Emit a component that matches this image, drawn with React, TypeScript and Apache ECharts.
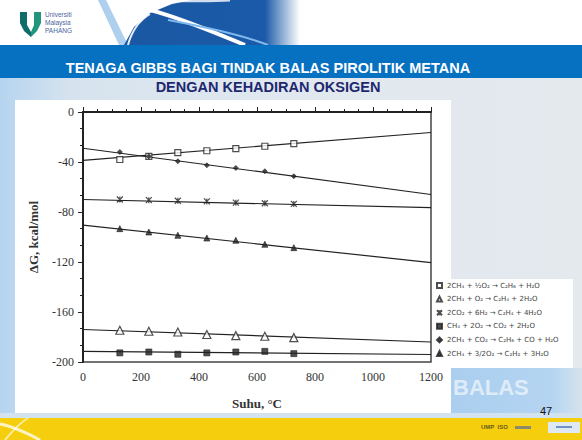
import React, { useEffect, useRef } from "react";
import * as echarts from "echarts";

// ---- data ----
const temps = [127, 227, 327, 427, 527, 627, 727];
const fitX = [0, 1200];
const reactionNames = [
  "2CH\u2084 + \u00BDO\u2082 \u2192 C\u2082H\u2086 + H\u2082O",
  "2CH\u2084 + O\u2082 \u2192 C\u2082H\u2084 + 2H\u2082O",
  "2CO\u2082 + 6H\u2082 \u2192 C\u2082H\u2084 + 4H\u2082O",
  "CH\u2084 + 2O\u2082 \u2192 CO\u2082 + 2H\u2082O",
  "2CH\u2084 + CO\u2082 \u2192 C\u2082H\u2086 + CO + H\u2082O",
  "2CH\u2084 + 3/2O\u2082 \u2192 C\u2082H\u2082 + 3H\u2082O",
];
const openSquare = [-38, -35.5, -32.5, -31, -29.3, -27.4, -25.3];
const openSquareFit = [-38.7, -16.4];
const openTriangle = [-174.6, -175.4, -176, -178, -178.9, -179.4, -180.5];
const openTriangleFit = [-174, -184];
const crossMark = [-70, -70.5, -71, -71.5, -72.5, -73, -73.5];
const crossMarkFit = [-70, -76.5];
const filledSquare = [-192.7, -192, -193.8, -192.7, -192, -191.5, -193.3];
const filledSquareFit = [-191.5, -194];
const smallDiamond = [-32, -35.5, -39.4, -42.6, -44.7, -47.4, -51.4];
const smallDiamondFit = [-29, -66];
const filledTriangle = [-93.3, -96, -98.6, -100.8, -102.6, -105.8, -108.5];
const filledTriangleFit = [-90.5, -120.5];

const xMin = 0, xMax = 1200, xStep = 200;
const yMin = -200, yMax = 0, yStep = 40;

const INK = "#222";
const serif = "Liberation Serif, DejaVu Serif, serif";

type Spec = {
  name: string;
  vals: number[];
  fit: number[];
  symbol: string;
  size: number;
  filled: boolean;
};

const specs: Spec[] = [
  { name: reactionNames[0], vals: openSquare, fit: openSquareFit, symbol: "rect", size: 6, filled: false },
  { name: reactionNames[1], vals: openTriangle, fit: openTriangleFit, symbol: "triangle", size: 8, filled: false },
  { name: reactionNames[2], vals: crossMark, fit: crossMarkFit, symbol: "path://M0,0L10,10M10,0L0,10M5,0L5,10", size: 6, filled: false },
  { name: reactionNames[3], vals: filledSquare, fit: filledSquareFit, symbol: "rect", size: 6, filled: true },
  { name: reactionNames[4], vals: smallDiamond, fit: smallDiamondFit, symbol: "diamond", size: 5, filled: true },
  { name: reactionNames[5], vals: filledTriangle, fit: filledTriangleFit, symbol: "triangle", size: 6, filled: true },
];

function buildOption() {
  const series: any[] = [];
  specs.forEach((s, i) => {
    series.push({
      type: "line",
      name: "fit" + i,
      data: fitX.map((x, k) => [x, s.fit[k]]),
      showSymbol: false,
      silent: true,
      lineStyle: { color: INK, width: 1.2 },
      z: 2,
    });
  });
  specs.forEach((s) => {
    series.push({
      type: "scatter",
      name: s.name,
      data: temps.map((t, k) => [t, s.vals[k]]),
      symbol: s.symbol,
      symbolSize: s.size,
      itemStyle: s.filled
        ? { color: INK, borderColor: INK, borderWidth: 0.8 }
        : { color: "#fff", borderColor: INK, borderWidth: 1.2 },
      z: 3,
    });
  });

  const bg = (el: any) => ({ z: -5, silent: true, ...el });

  const graphic: any[] = [
    // slide background
    bg({ type: "rect", shape: { x: 0, y: 0, width: 582, height: 440 },
      style: { fill: new echarts.graphic.LinearGradient(0, 0, 1, 0, [
        { offset: 0, color: "#b5d4f0" },
        { offset: 0.12, color: "#d6e3ee" },
        { offset: 0.5, color: "#e1e8ef" },
        { offset: 1, color: "#e4e9ee" },
      ]) } }),
    // light blue area bottom right
    bg({ type: "rect", shape: { x: 430, y: 368, width: 152, height: 46 },
      style: { fill: new echarts.graphic.LinearGradient(0, 0, 1, 0, [
        { offset: 0, color: "#a9cdef" },
        { offset: 0.8, color: "#b4d4f1" },
        { offset: 1, color: "#d6e3ee" },
      ]) } }),
    bg({ type: "text", x: 453, y: 376,
      style: { text: "BALAS", fill: "rgba(255,255,255,0.6)", font: "bold 22px Liberation Sans, Arial, sans-serif" } }),
    // header white
    bg({ type: "rect", shape: { x: 0, y: 0, width: 582, height: 45 }, style: { fill: "#fff" } }),
    // header swoosh
    bg({ type: "polygon", shape: { points: [[98, 0], [106, 0], [128, 45], [119, 45]] }, style: { fill: "rgba(120,175,225,0.6)" } }),
    bg({ type: "polygon", shape: { points: [[124, 45], [134, 27], [150, 13], [172, 4], [192, 0], [300, 0], [300, 45]] },
      style: { fill: new echarts.graphic.LinearGradient(0, 0, 1, 0, [
        { offset: 0, color: "#1b58a3" },
        { offset: 0.8, color: "#1a5aa8" },
        { offset: 1, color: "rgba(26,90,168,0)" },
      ]) } }),
    bg({ type: "bezierCurve", shape: { x1: 122, y1: 4, cpx1: 150, cpy1: 8, cpx2: 180, cpy2: 18, x2: 245, y2: 45 },
      style: { stroke: "#fff", lineWidth: 4, fill: null } }),
    bg({ type: "bezierCurve", shape: { x1: 140, y1: 0, cpx1: 170, cpy1: 0, cpx2: 200, cpy2: 2, x2: 230, y2: 0 },
      style: { stroke: "rgba(255,255,255,0.8)", lineWidth: 3, fill: null } }),
    bg({ type: "bezierCurve", shape: { x1: 168, y1: 20, cpx1: 200, cpy1: 26, cpx2: 240, cpy2: 34, x2: 268, y2: 45 },
      style: { stroke: "#7fb8ec", lineWidth: 2, fill: null } }),
    bg({ type: "bezierCurve", shape: { x1: 128, y1: 45, cpx1: 132, cpy1: 30, cpx2: 140, cpy2: 20, x2: 150, y2: 14 },
      style: { stroke: "rgba(255,255,255,0.9)", lineWidth: 2, fill: null } }),
    // logo
    bg({ type: "polygon", shape: { points: [[20, 12], [27, 12], [27, 25], [31, 32], [31, 37], [24, 31], [20, 23]] }, style: { fill: "#0f6d6a" } }),
    bg({ type: "polygon", shape: { points: [[34, 12], [41, 12], [41, 23], [37, 31], [31, 37], [31, 32], [34, 25]] }, style: { fill: "#23957c" } }),
    bg({ type: "text", x: 45, y: 11, style: { text: "Universiti", fill: "#4a64a0", font: "6.5px Liberation Sans, sans-serif" } }),
    bg({ type: "text", x: 45, y: 19, style: { text: "Malaysia", fill: "#4a64a0", font: "6.5px Liberation Sans, sans-serif" } }),
    bg({ type: "text", x: 45, y: 27, style: { text: "PAHANG", fill: "#4a64a0", font: "6.5px Liberation Sans, sans-serif" } }),
    // blue title bar
    bg({ type: "rect", shape: { x: 0, y: 45, width: 582, height: 33 }, style: { fill: "#0670c1" } }),
    bg({ type: "text", x: 268, y: 68,
      style: { text: "TENAGA GIBBS BAGI TINDAK BALAS PIROLITIK METANA", fill: "#fff",
        font: "bold 14.5px Liberation Sans, Arial, sans-serif", align: "center", verticalAlign: "middle" } }),
    bg({ type: "text", x: 268, y: 87,
      style: { text: "DENGAN KEHADIRAN OKSIGEN", fill: "#1e2870",
        font: "bold 14.5px Liberation Sans, Arial, sans-serif", align: "center", verticalAlign: "middle" } }),
    // chart white panel
    bg({ type: "rect", shape: { x: 15, y: 100, width: 436, height: 313 }, style: { fill: "#fff" } }),
    // legend white panel
    bg({ type: "rect", shape: { x: 433, y: 279, width: 140, height: 89 }, style: { fill: "#fff" } }),
    // footer
    bg({ type: "rect", shape: { x: 0, y: 413, width: 582, height: 5 }, style: { fill: "#d3e2ef" } }),
    bg({ type: "rect", shape: { x: 0, y: 418, width: 582, height: 22 }, style: { fill: "#f5cf0e" } }),
    bg({ type: "bezierCurve", shape: { x1: 0, y1: 424, cpx1: 12, cpy1: 426, cpx2: 25, cpy2: 432, x2: 40, y2: 440 },
      style: { stroke: "rgba(255,255,255,0.75)", lineWidth: 3, fill: null } }),
    bg({ type: "bezierCurve", shape: { x1: 5, y1: 440, cpx1: 12, cpy1: 432, cpx2: 18, cpy2: 424, x2: 28, y2: 418 },
      style: { stroke: "rgba(255,255,255,0.6)", lineWidth: 2, fill: null } }),
    bg({ type: "text", x: 481, y: 424, style: { text: "UMP  ISO", fill: "#6b5a1a", font: "bold 6px Liberation Sans, sans-serif" } }),
    bg({ type: "rect", shape: { x: 515, y: 426, width: 16, height: 3 }, style: { fill: "#8d8a6a" } }),
    bg({ type: "rect", shape: { x: 548, y: 422, width: 32, height: 11 }, style: { fill: "#dfe9f3" } }),
    bg({ type: "rect", shape: { x: 556, y: 426, width: 16, height: 2 }, style: { fill: "#6d94c4" } }),
    // page number
    bg({ type: "text", x: 546, y: 411,
      style: { text: "47", fill: "#111", font: "11px Liberation Sans, Arial, sans-serif", align: "center", verticalAlign: "middle" } }),
  ];

  return {
    animation: false,
    backgroundColor: "transparent",
    graphic,
    grid: {
      left: 83, top: 112, width: 348, height: 250,
      show: true, borderColor: "#444", borderWidth: 1.5, backgroundColor: "transparent",
    },
    legend: {
      orient: "vertical",
      left: 436, top: 282,
      padding: 0,
      itemWidth: 5, itemHeight: 5, itemGap: 6.6,
      data: specs.map((s) => s.name),
      textStyle: { fontSize: 7, lineHeight: 7, color: "#444", fontFamily: "DejaVu Sans, sans-serif" },
      selectedMode: false,
    },
    xAxis: {
      type: "value", min: xMin, max: xMax, interval: xStep,
      name: "Suhu, \u00B0C", nameLocation: "middle", nameGap: 35,
      nameTextStyle: { fontFamily: serif, fontSize: 13, fontWeight: "bold", color: "#333" },
      axisLine: { show: true, lineStyle: { color: INK, width: 2 } },
      axisTick: { show: true, inside: true, length: 5, lineStyle: { color: INK } },
      minorTick: { show: true, splitNumber: 4, length: 3, lineStyle: { color: INK } },
      splitLine: { show: false },
      axisLabel: { fontFamily: serif, fontSize: 12, color: "#333", margin: 9, formatter: (v: number) => String(v) },
    },
    yAxis: {
      type: "value", min: yMin, max: yMax, interval: yStep,
      name: "\u0394G, kcal/mol", nameLocation: "middle", nameGap: 43, nameRotate: 90,
      nameTextStyle: { fontFamily: serif, fontSize: 13, fontWeight: "bold", color: "#333" },
      axisLine: { show: true, lineStyle: { color: INK, width: 2 } },
      axisTick: { show: true, inside: false, length: 5, lineStyle: { color: INK } },
      minorTick: { show: true, splitNumber: 3, length: 3, lineStyle: { color: INK } },
      splitLine: { show: false },
      axisLabel: { fontFamily: serif, fontSize: 12, color: "#333", margin: 9, formatter: (v: number) => String(v) },
    },
    series,
  };
}

export default function App() {
  const ref = useRef<HTMLDivElement>(null);
  useEffect(() => {
    if (!ref.current) return;
    const chart = echarts.init(ref.current, undefined, { renderer: "svg" });
    chart.setOption(buildOption() as any);
    return () => chart.dispose();
  }, []);
  return (
    <div
      ref={ref}
      style={{ position: "absolute", left: 0, top: 0, width: 582, height: 440 }}
    />
  );
}
